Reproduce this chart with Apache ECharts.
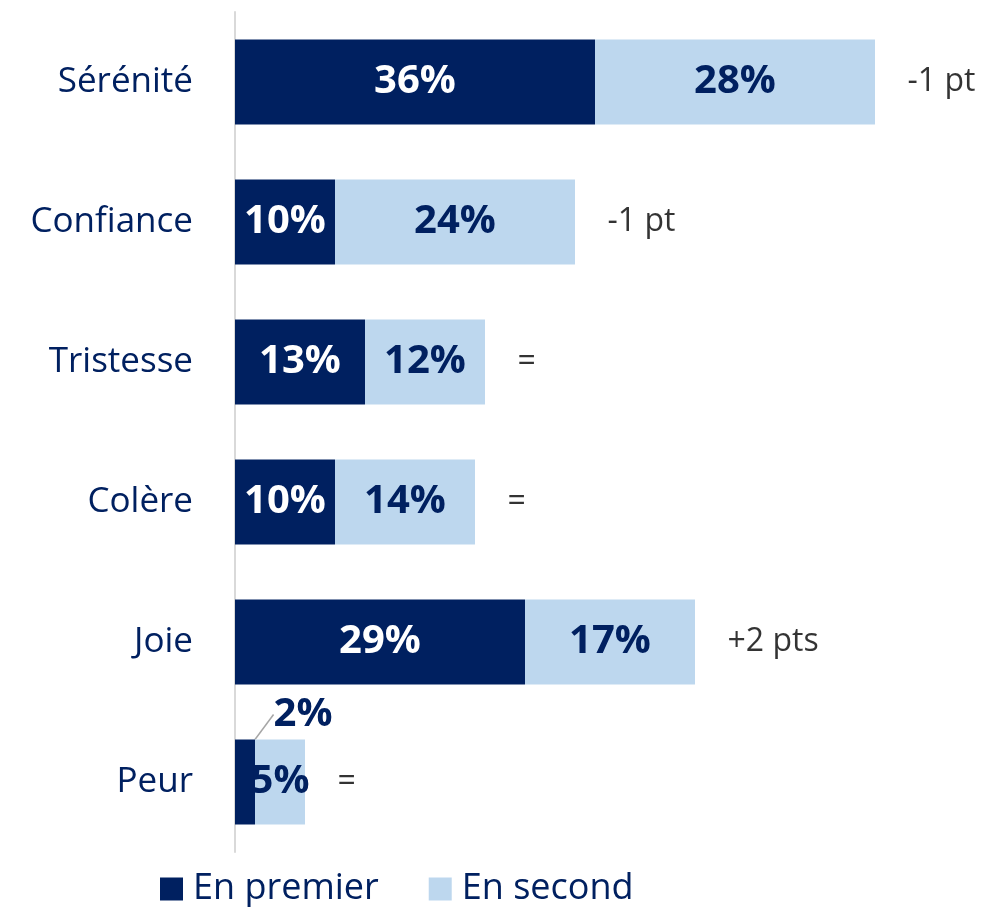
<!DOCTYPE html>
<html>
<head>
<meta charset="utf-8">
<script src="https://cdn.jsdelivr.net/npm/echarts@6/dist/echarts.min.js"></script>
<style>
  html, body { margin: 0; padding: 0; background: #ffffff; }
  #chart { width: 1002px; height: 907px; }
</style>
</head>
<body>
<div id="chart"></div>
<script>
// Emotions, top to bottom
const categories = ['Sérénité', 'Confiance', 'Tristesse', 'Colère', 'Joie', 'Peur'];
// Share of answers given first and second (%)
const firstValues = [36, 10, 13, 10, 29, 2];
const secondValues = [28, 24, 12, 14, 17, 5];
// Change versus previous wave
const changes = ['-1 pt', '-1 pt', '=', '=', '+2 pts', '='];
const seriesNames = ['En premier', 'En second'];

const NAVY = '#002060';
const LIGHT = '#BDD7EE';
const FONT = '"Open Sans", "Noto Sans", sans-serif';

const chart = echarts.init(document.getElementById('chart'), null, { renderer: 'canvas' });

const firstData = firstValues.map((v, i) => {
  if (i === categories.length - 1) {
    // narrow bar: label sits above with a leader line
    return {
      value: v,
      label: { position: 'top', color: NAVY },
      labelLine: { show: true, lineStyle: { color: '#a6a6a6', width: 1.5 } }
    };
  }
  return v;
});

const totals = firstValues.map((v, i) => [v + secondValues[i], categories[i], changes[i]]);

chart.setOption({
  animation: false,
  grid: { left: 235, top: 12, width: 760, bottom: 55, containLabel: false },
  xAxis: {
    type: 'value', min: 0, max: 76,
    show: false
  },
  yAxis: {
    type: 'category',
    data: categories,
    inverse: true,
    axisLine: { show: true, lineStyle: { color: '#d9d9d9', width: 2 } },
    axisTick: { show: false },
    axisLabel: { color: NAVY, fontFamily: FONT, fontSize: 35, margin: 42 }
  },
  legend: {
    left: 155, top: 866,
    itemWidth: 23, itemHeight: 23, itemGap: 50,
    icon: 'rect',
    textStyle: { color: NAVY, fontFamily: FONT, fontSize: 36, padding: [0, 0, 0, 5] },
    data: seriesNames
  },
  series: [
    {
      name: seriesNames[0],
      type: 'bar', stack: 'total', barWidth: 85,
      itemStyle: { color: NAVY },
      label: {
        show: true, position: 'inside', formatter: '{c}%',
        color: '#ffffff', fontFamily: FONT, fontWeight: 'bold', fontSize: 40
      },
      labelLayout: function (p) {
        if (p.dataIndex === categories.length - 1) {
          return { dx: 58, dy: 0 };
        }
        return {};
      },
      data: firstData
    },
    {
      name: seriesNames[1],
      type: 'bar', stack: 'total', barWidth: 85,
      itemStyle: { color: LIGHT },
      label: {
        show: true, position: 'inside', formatter: '{c}%',
        color: NAVY, fontFamily: FONT, fontWeight: 'bold', fontSize: 40
      },
      data: secondValues
    },
    {
      name: 'change',
      type: 'scatter',
      symbolSize: 1,
      itemStyle: { color: 'rgba(0,0,0,0)' },
      label: {
        show: true, position: 'right', distance: 32,
        formatter: p => p.data[2],
        color: '#000000', fontFamily: FONT, fontSize: 32
      },
      data: totals,
      silent: true
    }
  ]
});
</script>
</body>
</html>
